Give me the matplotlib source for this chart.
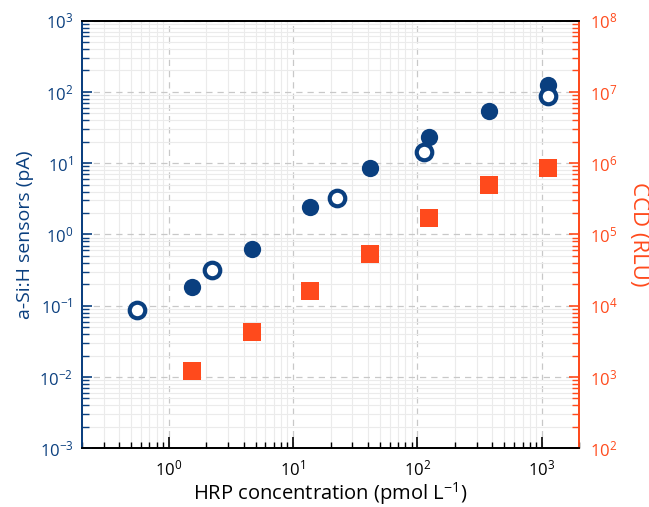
import matplotlib
matplotlib.use("Agg")
import matplotlib.pyplot as plt
from matplotlib.ticker import LogLocator, NullFormatter, FixedLocator

plt.rcParams['font.family'] = ['Open Sans', 'DejaVu Sans']
plt.rcParams['mathtext.fontset'] = 'custom'
plt.rcParams['mathtext.rm'] = 'Open Sans'
plt.rcParams['mathtext.it'] = 'Open Sans'

# data
conc_open = [0.56, 2.25, 22.5, 112, 1111]
sensor_open = [0.087, 0.317, 3.24, 14.3, 87.4]
conc_filled = [1.55, 4.67, 13.6, 41.9, 124, 375, 1111]
sensor_filled = [0.183, 0.624, 2.42, 8.55, 23.2, 53.8, 124.5]
conc_ccd = [1.55, 4.67, 13.6, 41.9, 124, 375, 1111]
ccd_rlu = [1213, 4270, 16070, 53100, 170000, 493000, 853000]

# tick positions (decades shown)
x_ticks = [1e0, 1e1, 1e2, 1e3]
y_ticks_left = [1e-3, 1e-2, 1e-1, 1e0, 1e1, 1e2, 1e3]
y_ticks_right = [1e2, 1e3, 1e4, 1e5, 1e6, 1e7, 1e8]

BLUE = '#0a3f7f'
ORANGE = '#ff4a1c'

fig = plt.figure(figsize=(6.49, 5.07), dpi=100)
ax = fig.add_axes([0.1259, 0.1158, 0.7667, 0.8434])
ax2 = ax.twinx()

ax.set_xscale('log')
ax.set_yscale('log')
ax2.set_yscale('log')
ax.set_xlim(0.2, 2000)
ax.set_ylim(1e-3, 1e3)
ax2.set_ylim(1e2, 1e8)

# locators
ax.yaxis.set_major_locator(FixedLocator(y_ticks_left))
ax2.yaxis.set_major_locator(FixedLocator(y_ticks_right))
for a in (ax, ax2):
    a.yaxis.set_minor_locator(LogLocator(base=10, subs=range(2, 10), numticks=20))
    a.yaxis.set_minor_formatter(NullFormatter())
ax.xaxis.set_major_locator(FixedLocator(x_ticks))
ax.xaxis.set_minor_locator(LogLocator(base=10, subs=range(2, 10), numticks=20))
ax.xaxis.set_minor_formatter(NullFormatter())

# grid drawn on the bottom (twin) axes so that all marks lie above it
ax2.set_zorder(1)
ax.set_zorder(2)
ax.patch.set_visible(False)
ax2.patch.set_visible(True)
ax2.patch.set_facecolor('white')
ax2.xaxis.set_visible(True)
ax2.tick_params(axis='x', which='both', top=False, bottom=False,
                labeltop=False, labelbottom=False)
ax2.grid(which='major', axis='both', color='#c8c8c8', linestyle=(0, (5, 4)), linewidth=0.9)
ax2.grid(which='minor', axis='both', color='#ebebeb', linestyle='-', linewidth=0.8)
ax2.set_axisbelow(True)

ax2.scatter(conc_ccd, ccd_rlu, marker='s', s=150, color=ORANGE, zorder=3, linewidths=0)
ax.scatter(conc_filled, sensor_filled, marker='o', s=155, color=BLUE, zorder=4, linewidths=0)
ax.scatter(conc_open, sensor_open, marker='o', s=125, facecolors='white', edgecolors=BLUE, linewidths=3.0, zorder=5)

ax.tick_params(axis='x', which='both', direction='in', top=False, colors='black', labelsize=12, pad=8)
ax.tick_params(axis='x', which='major', length=8, width=1.2)
ax.tick_params(axis='x', which='minor', length=4, width=1.0)
ax.tick_params(axis='y', which='both', direction='in', right=False, colors=BLUE, labelsize=12, pad=6)
ax.tick_params(axis='y', which='major', length=7, width=1.2)
ax.tick_params(axis='y', which='minor', length=5, width=1.0)
ax2.tick_params(axis='y', which='both', direction='in', left=False, colors=ORANGE, labelsize=12, pad=8)
ax2.tick_params(axis='y', which='major', length=7, width=1.2)
ax2.tick_params(axis='y', which='minor', length=5, width=1.0)

for a in (ax, ax2):
    a.spines['top'].set_color('black')
    a.spines['bottom'].set_color('black')
    a.spines['left'].set_color(BLUE)
    a.spines['right'].set_color(ORANGE)
    for s in a.spines.values():
        s.set_linewidth(1.3)

ax.set_xlabel('HRP concentration (pmol L$^{-1}$)', fontsize=14.5, color='black', labelpad=0.5)
ax.set_ylabel('a-Si:H sensors (pA)', fontsize=14, color=BLUE, labelpad=4)
ax2.set_ylabel('CCD (RLU)', fontsize=16, color=ORANGE, rotation=270, labelpad=22)

fig.savefig('out.png', dpi=100)
